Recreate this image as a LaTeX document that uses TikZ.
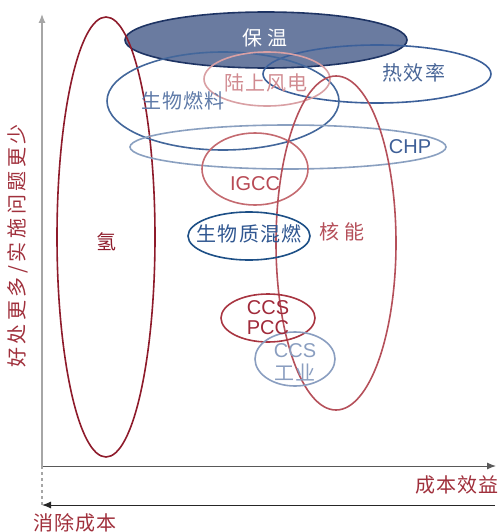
\documentclass[tikz,border=0pt]{standalone}
\usepackage{fontspec}
\setmainfont{Liberation Sans}
\newfontfamily\cjk[LetterSpace=6]{Noto Sans CJK SC}
\newfontfamily\cjkwide[LetterSpace=18]{Noto Sans CJK SC}
\usetikzlibrary{shapes.geometric,arrows.meta}
\definecolor{labred}{HTML}{A0303C}
\definecolor{h2red}{HTML}{8E1B2B}
\definecolor{nucred}{HTML}{B5505A}
\definecolor{igcc}{HTML}{C46A70}
\definecolor{igcctxt}{HTML}{B84A55}
\definecolor{windpink}{HTML}{D9A0A4}
\definecolor{windtxt}{HTML}{D08A90}
\definecolor{insfill}{HTML}{6A7BA0}
\definecolor{insline}{HTML}{1E3464}
\definecolor{biofuel}{HTML}{43679B}
\definecolor{biofueltxt}{HTML}{5E7AA8}
\definecolor{thermal}{HTML}{3C609A}
\definecolor{thermaltxt}{HTML}{4A6798}
\definecolor{chp}{HTML}{8AA0C0}
\definecolor{chptxt}{HTML}{3E5F97}
\definecolor{cofire}{HTML}{1D4F86}
\definecolor{cofiretxt}{HTML}{2F5690}
\definecolor{pcc}{HTML}{A83541}
\definecolor{pcctxt}{HTML}{A02A3A}
\definecolor{ccsind}{HTML}{8A9EC0}
\tikzset{
  ell/.style={ellipse, draw, line width=1.6pt, inner sep=0pt, fill=none},
  cjktxt/.style={font=\cjk\fontsize{20}{20}\selectfont, inner sep=0pt},
  lattxt/.style={font=\fontsize{20}{20}\selectfont, inner sep=0pt},
  axishead/.style={-{Latex[length=9pt,width=7pt]}},
}
\begin{document}
\begin{tikzpicture}[x=1pt,y=-1pt]
\useasboundingbox (0,0) rectangle (501,532);
% filled insulation ellipse first
\node[ell, draw=insline, fill=insfill, minimum width=282pt, minimum height=56pt] (ins) at (266,40) {};
% other ellipses
\node[ell, draw=h2red, minimum width=98pt, minimum height=440pt] (h2) at (106,237) {};
\node[ell, draw=thermal, minimum width=228pt, minimum height=58pt] (therm) at (377,74) {};
\node[ell, draw=biofuel, minimum width=232pt, minimum height=98pt] (bio) at (223,101) {};
\node[ell, draw=windpink, minimum width=126pt, minimum height=54pt] (wind) at (267,79) {};
\node[ell, draw=chp, minimum width=316pt, minimum height=44pt] (chpe) at (288,147) {};
\node[ell, draw=igcc, minimum width=106pt, minimum height=72pt] (igcce) at (255,169) {};
\node[ell, draw=nucred, minimum width=120pt, minimum height=334pt] (nuc) at (336,243) {};
\node[ell, draw=cofire, minimum width=122pt, minimum height=48pt] (cof) at (249,236) {};
\node[ell, draw=pcc, minimum width=94pt, minimum height=48pt] (pcce) at (268,318) {};
\node[ell, draw=ccsind, minimum width=80pt, minimum height=54pt] (ind) at (295,359) {};
% labels
\node[cjktxt, text=white] (tins) at (265,38) {保\hspace{5pt}温};
\node[cjktxt, text=thermaltxt] (ttherm) at (414,73) {热效率};
\node[cjktxt, text=biofueltxt] (tbio) at (183,101) {生物燃料};
\node[cjktxt, text=windtxt] (twind) at (266,83) {陆上风电};
\node[lattxt, text=chptxt] (tchp) at (410,147) {CHP};
\node[lattxt, text=igcctxt] (tigcc) at (255,184) {IGCC};
\node[cjktxt, text=nucred] (tnuc) at (342,232) {核\hspace{5pt}能};
\node[cjktxt, text=cofiretxt] (tcof) at (249,234) {生物质混燃};
\node[cjktxt, text=h2red] (th2) at (106,242) {氢};
\node[lattxt, text=pcctxt, align=center, font=\fontsize{20}{20}\selectfont] (tpcc) at (268,318) {CCS\\PCC};
\node[lattxt, text=ccsind] (tind1) at (295,351) {CCS};
\node[cjktxt, text=ccsind] (tind2) at (295,372) {工业};
% axes
\coordinate (o) at (42,466);
\coordinate (ytop) at (42,14);
\coordinate (xend) at (496,466);
\coordinate (dashend) at (42,505);
\coordinate (barright) at (495,505);
\draw[draw=black!35, line width=1.2pt, axishead] (o) -- (ytop);
\draw[draw=black!65, line width=1pt, axishead] (o) -- (xend);
\draw[draw=black!35, line width=1.2pt, dashed] (o) -- (dashend);
\draw[draw=black!85, line width=1pt, axishead] (barright) -- (dashend);
\node[cjktxt, text=labred, anchor=east] (lx) at (499,485) {成本效益};
\node[cjktxt, text=labred, anchor=west] (lc) at (33,523) {消除成本};
\node[font=\cjkwide\fontsize{20}{20}\selectfont, inner sep=0pt, text=labred, rotate=90] (ly) at (18,246) {好处更多/实施问题更少};
\end{tikzpicture}
\end{document}
